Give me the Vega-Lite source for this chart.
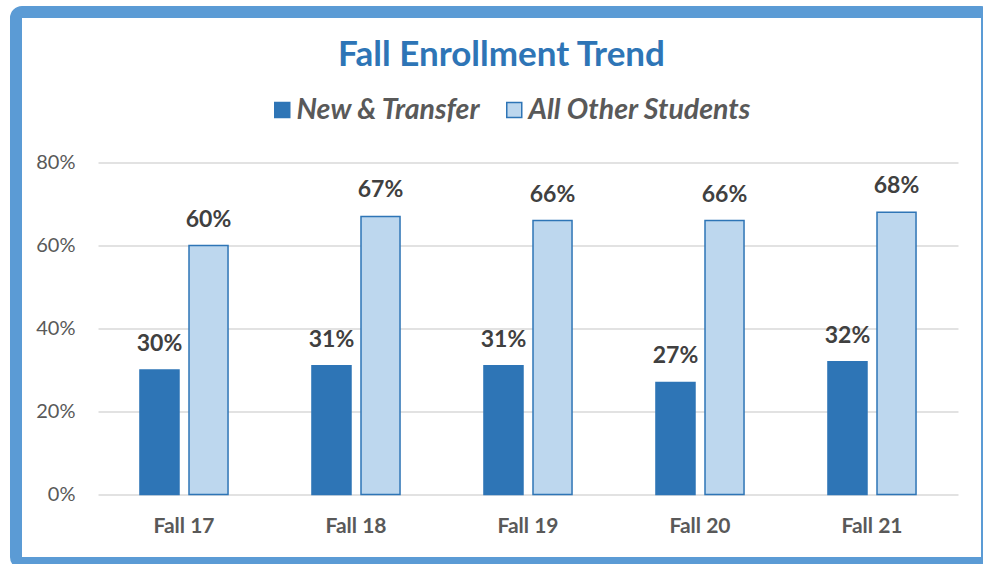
{
  "$schema": "https://vega.github.io/schema/vega-lite/v6.json",
  "width": 860,
  "height": 332,
  "autosize": {"type": "none"},
  "padding": {"left": 98, "top": 162.5, "right": 25, "bottom": 69.5},
  "background": "white",
  "title": {
    "text": "Fall Enrollment Trend",
    "font": "Lato",
    "fontSize": 35,
    "fontWeight": "bold",
    "color": "#2E75B6",
    "anchor": "middle",
    "dx": -26.5,
    "offset": -67
  },
  "resolve": {"scale": {"x": "independent"}},
  "layer": [
    {
      "data": {"values": [{}]},
      "mark": {"type": "rect", "filled": false, "stroke": "#5B9BD5", "strokeWidth": 12, "cornerRadius": 6},
      "encoding": {
        "x": {"datum": -0.09535, "type": "quantitative", "scale": {"domain": [0, 1]}, "axis": null},
        "x2": {"datum": 1.03372},
        "y": {"datum": -0.16506, "type": "quantitative"},
        "y2": {"datum": 1.16265}
      }
    },
    {
      "data": {
        "values": [
          {"term": "Fall 17", "group": "New & Transfer", "pct": 0.30},
          {"term": "Fall 17", "group": "All Other Students", "pct": 0.60},
          {"term": "Fall 18", "group": "New & Transfer", "pct": 0.31},
          {"term": "Fall 18", "group": "All Other Students", "pct": 0.67},
          {"term": "Fall 19", "group": "New & Transfer", "pct": 0.31},
          {"term": "Fall 19", "group": "All Other Students", "pct": 0.66},
          {"term": "Fall 20", "group": "New & Transfer", "pct": 0.27},
          {"term": "Fall 20", "group": "All Other Students", "pct": 0.66},
          {"term": "Fall 21", "group": "New & Transfer", "pct": 0.32},
          {"term": "Fall 21", "group": "All Other Students", "pct": 0.68}
        ]
      },
      "encoding": {
        "x": {
          "field": "term", "type": "nominal", "sort": null,
          "scale": {"paddingInner": 0.488, "paddingOuter": 0.244},
          "axis": {
            "title": null, "labelAngle": 0, "ticks": false, "domain": false, "grid": false,
            "labelFont": "Lato", "labelFontSize": 21, "labelFontWeight": "bold",
            "labelColor": "#595959", "labelPadding": 21
          }
        },
        "xOffset": {
          "field": "group", "type": "nominal",
          "sort": ["New & Transfer", "All Other Students"],
          "scale": {"paddingInner": 0.204, "paddingOuter": 0}
        },
        "y": {
          "field": "pct", "type": "quantitative",
          "scale": {"domain": [0, 0.8], "nice": false, "zero": false},
          "axis": {
            "title": null, "values": [0, 0.2, 0.4, 0.6, 0.8], "format": ".0%",
            "ticks": false, "domain": false, "grid": true,
            "gridColor": "#D9D9D9", "gridWidth": 1.5,
            "labelFont": "Lato", "labelFontSize": 20, "labelColor": "#595959",
            "labelPadding": 23
          }
        }
      },
      "layer": [
        {
          "mark": {"type": "bar", "stroke": "#2E75B6", "strokeWidth": 1.5},
          "encoding": {
            "color": {
              "field": "group", "type": "nominal",
              "sort": ["New & Transfer", "All Other Students"],
              "scale": {"domain": ["New & Transfer", "All Other Students"], "range": ["#2E75B6", "#BDD7EE"]},
              "legend": {
                "title": null, "orient": "none", "direction": "horizontal",
                "legendX": 170, "legendY": -67, "padding": 0,
                "symbolType": "square", "symbolSize": 225,
                "symbolStrokeColor": "#2E75B6", "symbolStrokeWidth": 1.5,
                "labelFont": "Lato", "labelFontSize": 28.5, "labelFontStyle": "italic",
                "labelFontWeight": "bold", "labelColor": "#595959",
                "labelOffset": 0, "columnPadding": 19, "labelLimit": 400
              }
            }
          }
        },
        {
          "mark": {"type": "text", "font": "Lato", "fontSize": 23, "fontWeight": "bold", "color": "#404040", "baseline": "alphabetic", "dy": -19},
          "encoding": {
            "text": {"field": "pct", "type": "quantitative", "format": ".0%"}
          }
        }
      ]
    }
  ],
  "config": {"view": {"stroke": null}}
}
